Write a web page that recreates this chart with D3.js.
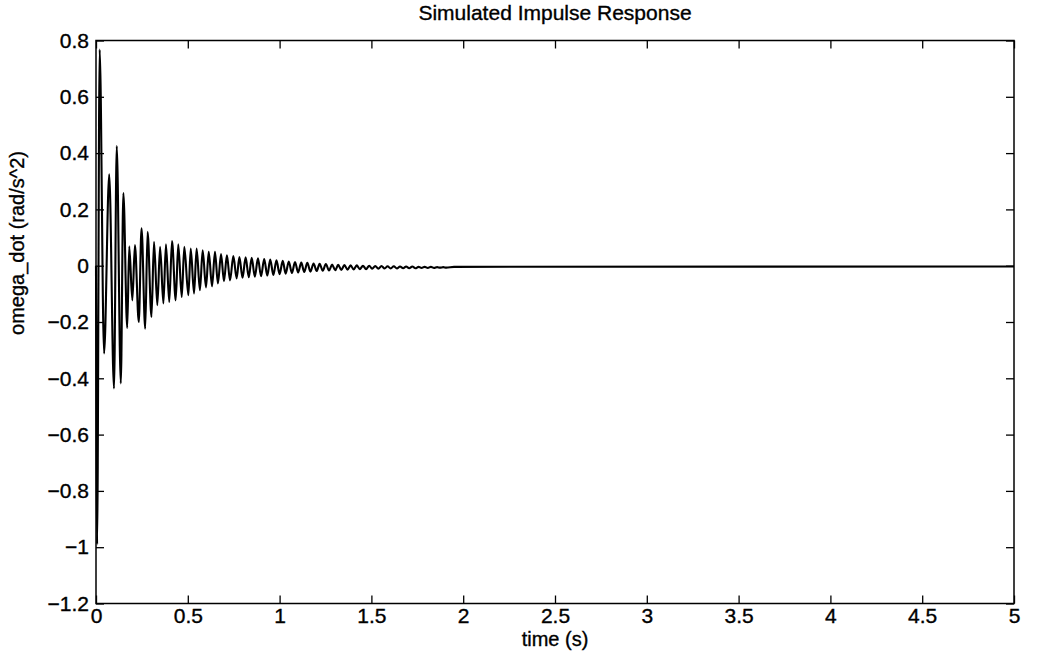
<!DOCTYPE html>
<html>
<head>
<meta charset="utf-8">
<script src="https://cdn.jsdelivr.net/npm/d3@7"></script>
<style>
  body { margin: 0; background: #fff; }
  text { font-family: "Liberation Sans", Arial, sans-serif; fill: #000; stroke: #000; stroke-width: 0.35px; }
</style>
</head>
<body>
<div id="chart"></div>
<script>
// simulated response, extrema (time in s, value in rad/s^2)
const times = [
  0, 0.006, 0.020, 0.044, 0.072, 0.098, 0.113, 0.135, 0.149, 0.170,
  0.181, 0.198, 0.212, 0.233, 0.248, 0.268, 0.281, 0.302, 0.316, 0.334,
  0.349, 0.367, 0.381, 0.399, 0.414, 0.434, 0.448, 0.467, 0.481, 0.503,
  0.516, 0.534, 0.548, 0.566, 0.581, 0.599, 0.614, 0.632, 0.648, 0.664,
  0.681, 0.697, 0.713, 0.730, 0.748, 0.766, 0.781, 0.798, 0.815, 0.832,
  0.848, 0.865, 0.882, 0.899, 0.916, 0.933, 0.949, 0.966, 0.983, 1.000,
  1.017, 1.033, 1.050, 1.067, 1.084, 1.101, 1.118, 1.134, 1.151, 1.168,
  1.185, 1.202, 1.218, 1.235, 1.252, 1.269, 1.286, 1.303, 1.319, 1.336,
  1.353, 1.370, 1.387, 1.403, 1.420, 1.437, 1.454, 1.471, 1.488, 1.504,
  1.521, 1.538, 1.555, 1.572, 1.588, 1.605, 1.622, 1.639, 1.656, 1.673,
  1.689, 1.706, 1.723, 1.740, 1.757, 1.773, 1.790, 1.807, 1.824, 1.841,
  1.858, 1.874, 1.891, 1.908, 1.950, 5.000
];
const values = [
  0, -0.99, 0.768, -0.312, 0.325, -0.436, 0.425, -0.418, 0.258, -0.221,
  0.069, -0.123, 0.073, -0.200, 0.133, -0.224, 0.120, -0.182, 0.085, -0.140,
  0.067, -0.134, 0.076, -0.129, 0.088, -0.123, 0.076, -0.111, 0.067, -0.105,
  0.061, -0.099, 0.061, -0.087, 0.055, -0.077, 0.049, -0.073, 0.049, -0.063,
  0.041, -0.055, 0.037, -0.052, 0.034, -0.045, 0.031, -0.043, 0.030, -0.041,
  0.028, -0.039, 0.026, -0.037, 0.024, -0.035, 0.022, -0.033, 0.019, -0.030,
  0.017, -0.028, 0.015, -0.026, 0.013, -0.024, 0.011, -0.022, 0.010, -0.021,
  0.008, -0.019, 0.007, -0.018, 0.006, -0.017, 0.004, -0.016, 0.003, -0.015,
  0.002, -0.014, 0.001, -0.013, 0.001, -0.012, 0.000, -0.012, 0.000, -0.011,
  -0.001, -0.011, -0.001, -0.010, -0.002, -0.010, -0.002, -0.010, -0.003, -0.009,
  -0.003, -0.009, -0.003, -0.009, -0.004, -0.008, -0.004, -0.008, -0.004, -0.008,
  -0.005, -0.007, -0.005, -0.007, -0.004, -0.003
];

const xTicks = [0, 0.5, 1, 1.5, 2, 2.5, 3, 3.5, 4, 4.5, 5];
const xTickLabels = ["0", "0.5", "1", "1.5", "2", "2.5", "3", "3.5", "4", "4.5", "5"];
const yTicks = [0.8, 0.6, 0.4, 0.2, 0, -0.2, -0.4, -0.6, -0.8, -1, -1.2];
const yTickLabels = ["0.8", "0.6", "0.4", "0.2", "0", "\u22120.2", "\u22120.4", "\u22120.6", "\u22120.8", "\u22121", "\u22121.2"];

const chartTitle = "Simulated Impulse Response";
const xTitle = "time (s)";
const yTitle = "omega_dot (rad/s^2)";

const w = 1055;
const h = 656;
const plotLeft = 96, plotRight = 1014, plotTop = 40.5, plotBottom = 603.5;

const svg = d3.select("#chart")
  .append("svg")
  .attr("width", w)
  .attr("height", h);

const xScale = d3.scaleLinear().domain([0, 5]).range([plotLeft, plotRight]);
const yScale = d3.scaleLinear().domain([-1.2, 0.8]).range([plotBottom, plotTop]);

// the trace
const points = times.map((t, i) => [t, values[i]]);
const line = d3.line()
  .x(d => xScale(d[0]))
  .y(d => yScale(d[1]))
  .curve(d3.curveMonotoneX);

svg.append("path")
  .datum(points)
  .attr("d", line)
  .attr("fill", "none")
  .attr("stroke", "#000")
  .attr("stroke-width", 2.1)
  .attr("stroke-linejoin", "round");

// axes, ticks pointing inwards on all four sides
const fmtX = (d, i) => xTickLabels[i];
const fmtY = (d, i) => yTickLabels[i];

svg.append("g")
  .attr("transform", `translate(0, ${plotBottom})`)
  .call(d3.axisBottom(xScale).tickValues(xTicks).tickFormat(fmtX).tickSize(-8).tickPadding(5));

svg.append("g")
  .attr("transform", `translate(0, ${plotTop})`)
  .call(d3.axisTop(xScale).tickValues(xTicks).tickFormat("").tickSize(-8));

svg.append("g")
  .attr("transform", `translate(${plotLeft}, 0)`)
  .call(d3.axisLeft(yScale).tickValues(yTicks).tickFormat(fmtY).tickSize(-8).tickPadding(7));

svg.append("g")
  .attr("transform", `translate(${plotRight}, 0)`)
  .call(d3.axisRight(yScale).tickValues(yTicks).tickFormat("").tickSize(-8));

svg.selectAll(".domain").remove();
svg.selectAll(".tick line").attr("stroke", "#000").attr("stroke-width", 1.3);
svg.selectAll(".tick text")
  .style("font-family", "'Liberation Sans', Arial, sans-serif")
  .style("font-size", "21px")
  .attr("fill", "#000");

svg.append("rect")
  .attr("x", plotLeft)
  .attr("y", plotTop)
  .attr("width", plotRight - plotLeft)
  .attr("height", plotBottom - plotTop)
  .attr("fill", "none")
  .attr("stroke", "#000")
  .attr("stroke-width", 1.5);

// titles
svg.append("text")
  .attr("x", (plotLeft + plotRight) / 2)
  .attr("y", 20)
  .attr("text-anchor", "middle")
  .style("font-size", "21px")
  .text(chartTitle);

svg.append("text")
  .attr("x", (plotLeft + plotRight) / 2)
  .attr("y", 646)
  .attr("text-anchor", "middle")
  .style("font-size", "20px")
  .text(xTitle);

svg.append("text")
  .attr("transform", "translate(24, 243) rotate(-90)")
  .attr("text-anchor", "middle")
  .style("font-size", "20px")
  .text(yTitle);
</script>
</body>
</html>
